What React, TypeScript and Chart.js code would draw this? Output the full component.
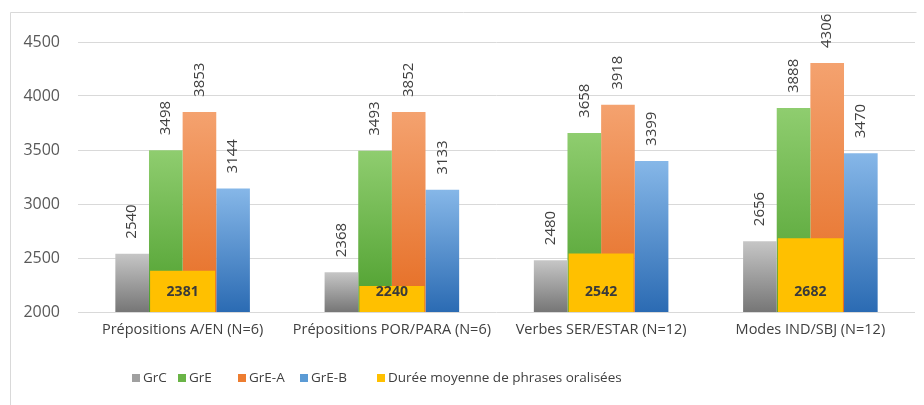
import React, { useEffect, useRef } from "react";
import { Chart, registerables } from "chart.js";

Chart.register(...registerables);

const categories = [
  "Prépositions A/EN (N=6)",
  "Prépositions POR/PARA (N=6)",
  "Verbes SER/ESTAR (N=12)",
  "Modes IND/SBJ (N=12)",
];
const grC = [2540, 2368, 2480, 2656];
const grE = [3498, 3493, 3658, 3888];
const grEA = [3853, 3852, 3918, 4306];
const grEB = [3144, 3133, 3399, 3470];
const duree = [2381, 2240, 2542, 2682];
const seriesNames = ["GrC", "GrE", "GrE-A", "GrE-B", "Durée moyenne de phrases oralisées"];
const yTicks = [2000, 2500, 3000, 3500, 4000, 4500];

const FONT = "'Open Sans', sans-serif";

const gradStops: [string, string][] = [
  ["#c6c6c6", "#767676"],
  ["#8fcd6f", "#4c9e2c"],
  ["#f4a26f", "#e56c22"],
  ["#86b7e8", "#2b6bb3"],
];
const legendColors = ["#a0a0a0", "#6ab447", "#ed7d31", "#5b9bd5", "#ffc000"];

function gradientFill(idx: number) {
  return (ctx: any) => {
    const chart = ctx.chart;
    const area = chart.chartArea;
    const ys = chart.scales.y;
    if (!area || !ys || ctx.raw == null) return gradStops[idx][1];
    const top = ys.getPixelForValue(ctx.raw);
    const bottom = area.bottom;
    const g = chart.ctx.createLinearGradient(0, top, 0, bottom);
    g.addColorStop(0, gradStops[idx][0]);
    g.addColorStop(1, gradStops[idx][1]);
    return g;
  };
}

const valueLabels = {
  id: "valueLabels",
  afterDraw(chart: any) {
    const ctx = chart.ctx;
    const bottom = chart.chartArea.bottom;
    for (let i = 0; i < 4; i++) {
      const meta = chart.getDatasetMeta(i);
      const data = chart.data.datasets[i].data;
      meta.data.forEach((bar: any, j: number) => {
        ctx.save();
        ctx.translate(bar.x, bar.y - 15);
        ctx.rotate(-Math.PI / 2);
        ctx.font = `15px ${FONT}`;
        ctx.fillStyle = "#404040";
        ctx.textAlign = "left";
        ctx.textBaseline = "middle";
        ctx.fillText(String(data[j]), 0, 0);
        ctx.restore();
      });
    }
    const m4 = chart.getDatasetMeta(4);
    const d4 = chart.data.datasets[4].data;
    m4.data.forEach((bar: any, j: number) => {
      ctx.save();
      ctx.font = `bold 14px ${FONT}`;
      ctx.fillStyle = "#3a3a3a";
      ctx.textAlign = "center";
      ctx.textBaseline = "middle";
      ctx.fillText(String(d4[j]), bar.x, bottom - 20);
      ctx.restore();
    });
  },
};

const frameAndLegend = {
  id: "frameAndLegend",
  beforeDraw(chart: any) {
    const ctx = chart.ctx;
    ctx.save();
    ctx.fillStyle = "#ffffff";
    ctx.fillRect(0, 0, chart.width, chart.height);
    ctx.strokeStyle = "#d9d9d9";
    ctx.lineWidth = 1;
    ctx.beginPath();
    ctx.moveTo(10.5, chart.height + 2);
    ctx.lineTo(10.5, 12.5);
    ctx.lineTo(916.5, 12.5);
    ctx.stroke();
    ctx.restore();
  },
  afterDraw(chart: any) {
    const ctx = chart.ctx;
    const boxX = [132, 178, 238, 300, 377];
    const y = 378;
    ctx.save();
    ctx.font = `13.5px ${FONT}`;
    ctx.textBaseline = "middle";
    ctx.textAlign = "left";
    seriesNames.forEach((name, i) => {
      ctx.fillStyle = legendColors[i];
      ctx.fillRect(boxX[i], y - 4, 8, 8);
      ctx.fillStyle = "#404040";
      ctx.fillText(name, boxX[i] + 11, y);
    });
    ctx.restore();
  },
};

export default function App() {
  const ref = useRef<HTMLCanvasElement | null>(null);
  useEffect(() => {
    if (!ref.current) return;
    const mainDs = [grC, grE, grEA, grEB].map((d, i) => ({
      label: seriesNames[i],
      data: d,
      backgroundColor: gradientFill(i),
      borderWidth: 0,
      categoryPercentage: 0.643,
      barPercentage: 1,
      order: 0,
    }));
    const chart = new Chart(ref.current, {
      type: "bar",
      data: {
        labels: categories,
        datasets: [
          ...mainDs,
          {
            label: seriesNames[4],
            data: duree,
            backgroundColor: "#ffc000",
            borderWidth: 0,
            grouped: false,
            categoryPercentage: 1,
            barPercentage: 0.311,
            order: -1,
          },
        ],
      } as any,
      options: {
        animation: false,
        responsive: false,
        maintainAspectRatio: false,
        layout: { padding: { top: 42, right: 9, left: 0, bottom: 0 } },
        plugins: {
          legend: { display: false },
          tooltip: { enabled: false },
        },
        scales: {
          x: {
            type: "category",
            offset: true,
            grid: { display: false, drawTicks: false },
            border: { display: false },
            ticks: {
              font: { family: FONT, size: 14.5 },
              color: "#404040",
              padding: 9,
              maxRotation: 0,
              autoSkip: false,
            },
            afterFit: (s: any) => {
              s.height = 405 - 312;
            },
          },
          y: {
            min: yTicks[0],
            max: yTicks[yTicks.length - 1],
            afterBuildTicks: (s: any) => {
              s.ticks = yTicks.map((v) => ({ value: v }));
            },
            grid: { color: "#d9d9d9", drawTicks: false, lineWidth: 1 },
            border: { display: false },
            ticks: {
              font: { family: FONT, size: 16 },
              color: "#595959",
              padding: 18,
              callback: (v: any) => String(v),
            },
            afterFit: (s: any) => {
              s.width = 78;
            },
          },
        },
      } as any,
      plugins: [frameAndLegend, valueLabels],
    });
    return () => chart.destroy();
  }, []);
  return (
    <div style={{ position: "absolute", left: 0, top: 0, width: 924, height: 405 }}>
      <canvas ref={ref} width={924} height={405} style={{ width: 924, height: 405 }} />
    </div>
  );
}
